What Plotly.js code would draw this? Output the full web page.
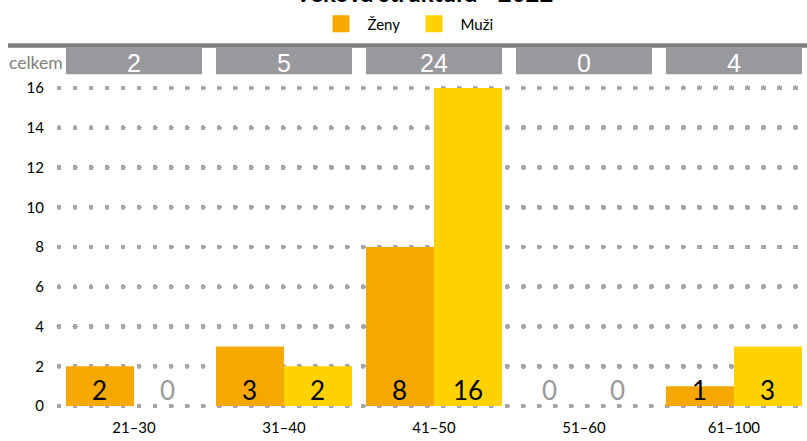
<!DOCTYPE html>
<html>
<head>
<meta charset="utf-8">
<script src="https://cdn.plot.ly/plotly-3.0.1.min.js"></script>
<style>
  html, body { margin: 0; padding: 0; background: #fff; }
  #chart { width: 807px; height: 441px; }
  .gridlayer path { stroke-linecap: round; }
  .legendpoints path { d: path("M2,8.5H-15V-8.5H2Z"); }
</style>
</head>
<body>
<div id="chart"></div>
<script>
// ---- data ----
const categories = ['21–30', '31–40', '41–50', '51–60', '61–100'];
const zeny = [2, 3, 8, 0, 1];
const muzi = [0, 2, 16, 0, 3];
const seriesNames = ['Ženy', 'Muži'];
const yTicks = [0, 2, 4, 6, 8, 10, 12, 14, 16];
const titleText = 'Věková struktura - 2022';
const totalLabel = 'celkem';

// ---- styling ----
const FONT = 'Lato, "Noto Sans", sans-serif';
const NARROW = '"Liberation Sans Narrow", "Liberation Sans", sans-serif';
const COL_Z = '#F5A900';
const COL_M = '#FFD200';
const W = 807, H = 441;
const PLOT_L = 59, PLOT_T = 86, PLOT_B = 33;
const plotW = W - PLOT_L;
const plotH = H - PLOT_T - PLOT_B;
const halfGroup = 0.4535;
const barHalfPx = 34;
const yPad = 0.1;

const totals = categories.map((c, i) => zeny[i] + muzi[i]);

const traces = [
  { type: 'bar', name: seriesNames[0], x: categories, y: zeny, marker: { color: COL_Z }, hoverinfo: 'x+y' },
  { type: 'bar', name: seriesNames[1], x: categories, y: muzi, marker: { color: COL_M }, hoverinfo: 'x+y' }
];

const pyPx = px => (H - PLOT_B - px) / plotH;  // pixel y -> paper y
const pxPx = px => (px - PLOT_L) / plotW;      // pixel x -> paper x

const annotations = [];
[zeny, muzi].forEach((arr, s) => {
  arr.forEach((v, i) => {
    annotations.push({
      x: categories[i], y: 0, xref: 'x', yref: 'y',
      xshift: s === 0 ? -barHalfPx : barHalfPx, yshift: 16,
      yanchor: 'middle', xanchor: 'center', showarrow: false,
      text: String(v),
      font: { family: FONT, size: 26, color: v > 0 ? '#000000' : '#9a9a9a' }
    });
  });
});
annotations.push({
  x: pxPx(7), y: pyPx(62), xref: 'paper', yref: 'paper',
  xanchor: 'left', yanchor: 'middle', showarrow: false,
  text: totalLabel, font: { family: FONT, size: 17.5, color: '#808080' }
});
// chart title (cut by the top edge, as in the original)
annotations.push({
  x: pxPx(423), y: pyPx(-8), xref: 'paper', yref: 'paper',
  xanchor: 'center', yanchor: 'middle', showarrow: false,
  text: '<b>' + titleText + '</b>',
  font: { family: FONT, size: 24, color: '#000000' }
});

const shapes = [{
  type: 'rect', xref: 'paper', yref: 'paper',
  x0: pxPx(8), x1: 1, y0: pyPx(47.7), y1: pyPx(43.3),
  fillcolor: '#7f7f80', line: { width: 0 }
}];
totals.forEach((t, i) => {
  shapes.push({
    type: 'rect', xref: 'x', yref: 'paper',
    x0: i - halfGroup, x1: i + halfGroup, y0: pyPx(74.3), y1: pyPx(47.7),
    fillcolor: '#99989d', line: { width: 0 },
    label: { text: String(t), textposition: 'middle center', font: { family: NARROW, size: 25, color: '#ffffff' } }
  });
});

const layout = {
  width: W, height: H,
  margin: { l: PLOT_L, r: 0, t: PLOT_T, b: PLOT_B, pad: 0 },
  paper_bgcolor: '#ffffff', plot_bgcolor: '#ffffff',
  font: { family: FONT, size: 14, color: '#000000' },
  barmode: 'group', bargap: 0.093, bargroupgap: 0,
  showlegend: true,
  legend: {
    orientation: 'h', x: 327.5 / W, xanchor: 'left', xref: 'container',
    y: 1 - 24 / H, yanchor: 'middle', yref: 'container',
    font: { family: FONT, size: 15, color: '#000000' },
    entrywidth: 48, itemwidth: 30, tracegroupgap: 0, bgcolor: 'rgba(0,0,0,0)'
  },
  xaxis: {
    type: 'category', range: [-0.5, 4.487],
    showgrid: false, zeroline: false, showline: false,
    ticks: 'outside', ticklen: 6, tickcolor: 'rgba(0,0,0,0)',
    tickfont: { family: FONT, size: 15, color: '#000000' },
    fixedrange: true
  },
  yaxis: {
    range: [-yPad, 16 + yPad], tickvals: yTicks, ticktext: yTicks.map(String),
    showgrid: true, gridcolor: '#a6a6a6', gridwidth: 5, griddash: '0.01px,16px',
    zeroline: false, showline: false,
    ticks: 'outside', ticklen: 11, tickcolor: 'rgba(0,0,0,0)',
    tickfont: { family: FONT, size: 15, color: '#000000' },
    fixedrange: true
  },
  shapes: shapes,
  annotations: annotations
};

Plotly.newPlot('chart', traces, layout, { displayModeBar: false, staticPlot: true });
</script>
</body>
</html>
